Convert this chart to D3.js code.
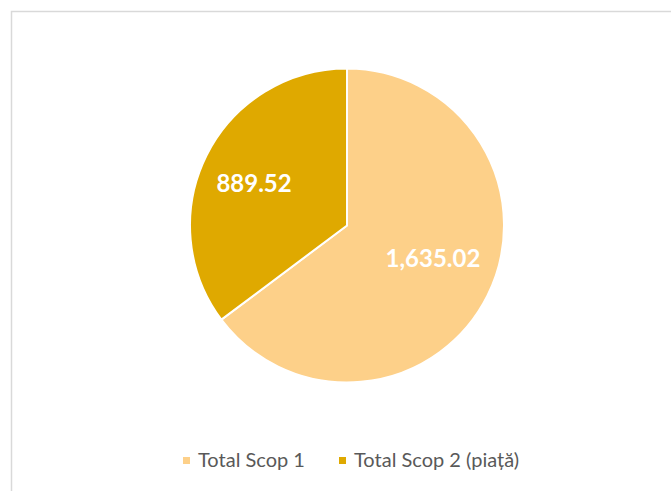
<!DOCTYPE html>
<html>
<head>
<meta charset="utf-8">
<script src="https://cdn.jsdelivr.net/npm/d3@7"></script>
<style>
  body { margin: 0; background: #fff; }
  svg { display: block; }
</style>
</head>
<body>
<div id="chart"></div>
<script>
// chart data
const categories = ["Total Scop 1", "Total Scop 2 (piață)"];
const values = [1635.02, 889.52];
const colors = ["#FDD089", "#DFA900"];

const width = 671;
const height = 491;
const cx = 347;
const cy = 225.5;
const radius = 157;
const fontFamily = "Lato, 'Open Sans', sans-serif";
// small nudges so labels sit where Excel put them
const labelNudge = [[-2.5, -11], [-4.5, 2.5]];

const svg = d3.select("#chart")
    .append("svg")
    .attr("width", width)
    .attr("height", height);

// chart frame
svg.append("rect")
    .attr("x", 11.5)
    .attr("y", 11.5)
    .attr("width", width)
    .attr("height", height)
    .attr("fill", "#fff")
    .attr("stroke", "#d9d9d9")
    .attr("stroke-width", 1.5);

const data = categories.map((c, i) => ({ name: c, value: values[i], color: colors[i] }));

const pie = d3.pie()
    .sort(null)
    .value(d => d.value);

const arc = d3.arc()
    .innerRadius(0)
    .outerRadius(radius);

const labelArc = d3.arc()
    .innerRadius(radius * 0.63)
    .outerRadius(radius * 0.63);

const g = svg.append("g")
    .attr("transform", `translate(${cx},${cy})`);

const slices = g.selectAll(".slice")
    .data(pie(data))
    .enter()
    .append("g")
    .attr("class", "slice");

slices.append("path")
    .attr("d", arc)
    .attr("fill", d => d.data.color)
    .attr("stroke", "#fff")
    .attr("stroke-width", 2)
    .attr("stroke-linejoin", "round");

const fmt = d3.format(",.2f");

slices.append("text")
    .attr("transform", (d, i) => {
        const [x, y] = labelArc.centroid(d);
        return `translate(${x + labelNudge[i][0]},${y + labelNudge[i][1]})`;
    })
    .attr("text-anchor", "middle")
    .attr("dy", "0.35em")
    .attr("font-family", fontFamily)
    .attr("font-weight", "bold")
    .attr("font-size", "24px")
    .attr("fill", "#fff")
    .text(d => fmt(d.data.value));

// legend
const legendY = 460.5;
const legendX = [183, 339];

const legend = svg.selectAll(".legendItem")
    .data(data)
    .enter()
    .append("g")
    .attr("class", "legendItem")
    .attr("transform", (d, i) => `translate(${legendX[i]},${legendY})`);

legend.append("rect")
    .attr("x", 0)
    .attr("y", -3.5)
    .attr("width", 7)
    .attr("height", 7)
    .attr("fill", d => d.color);

legend.append("text")
    .attr("x", 15)
    .attr("y", 6)
    .attr("font-family", fontFamily)
    .attr("font-size", "20px")
    .attr("fill", "#595959")
    .text(d => d.name);
</script>
</body>
</html>
